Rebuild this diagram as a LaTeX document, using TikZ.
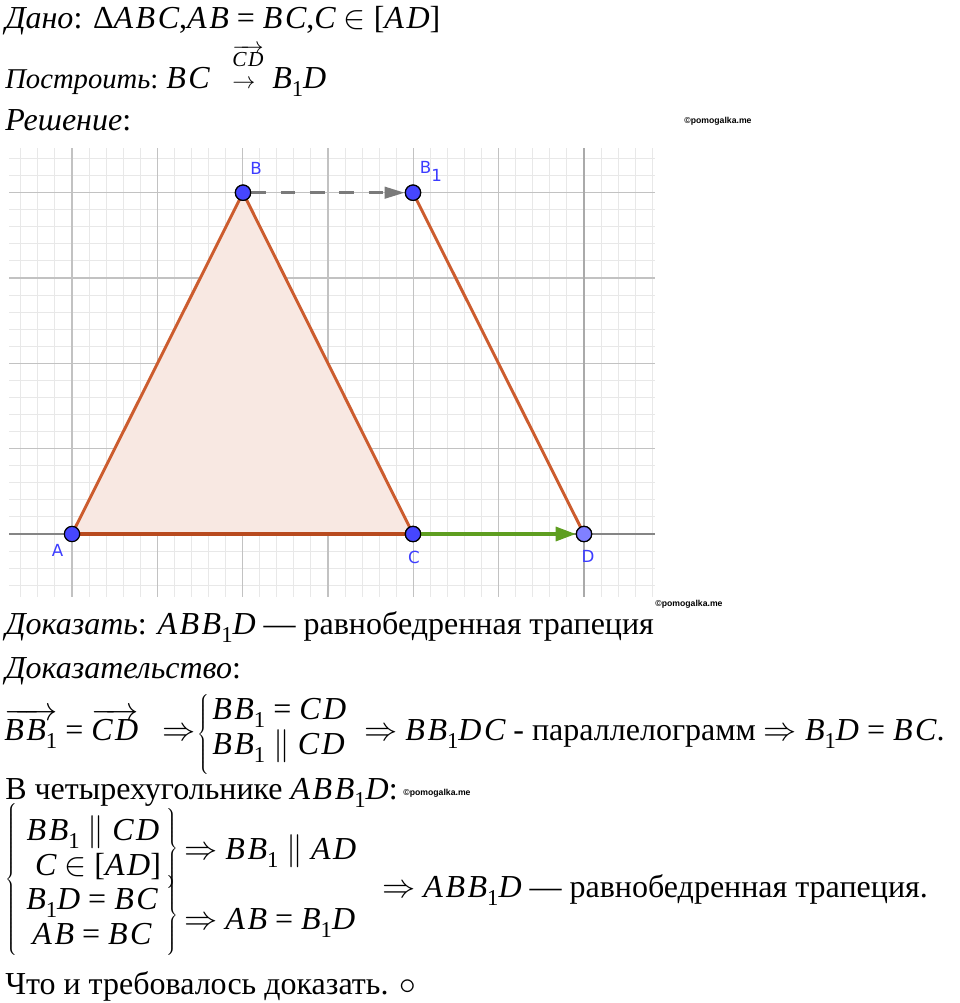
\documentclass[tikz,border=0pt]{standalone}
\usepackage{fontspec}
\setmainfont{Liberation Serif}
\newfontfamily\mitfont[LetterSpace=8.0]{Liberation Serif}
\newfontfamily\ggb{DejaVu Sans}
\newfontfamily\wmfont{Liberation Sans}
\usetikzlibrary{arrows.meta}
\definecolor{minorc}{HTML}{E8E8E8}
\definecolor{majorc}{HTML}{C2C2C2}
\definecolor{axisc}{HTML}{858585}
\definecolor{segc}{HTML}{CC5C2E}
\definecolor{basec}{HTML}{B84A1E}
\definecolor{fillc}{HTML}{F8E8E2}
\definecolor{ptc}{HTML}{4646FF}
\definecolor{ptd}{HTML}{8080FF}
\definecolor{lblc}{HTML}{3C3CFF}
\definecolor{greenc}{HTML}{5E9E20}
\definecolor{dashc}{HTML}{7A7A7A}
\newcommand\bodyfont{\fontsize{24}{29}\selectfont}
\newcommand\vr[1]{\vrule height #1 depth #1 width 0pt}
\newcommand\mi[1]{{\mitfont\itshape #1}}
\newcommand\one{\raisebox{-6pt}{\fontsize{17}{17}\selectfont 1}}
\newcommand\vecbox[1]{$\overrightarrow{\mbox{#1}}$}
\begin{document}
\begin{tikzpicture}[x=0.75pt,y=-0.75pt,
  txt/.style={anchor=base west,inner sep=0pt,font=\bodyfont},
  ctr/.style={anchor=base,inner sep=0pt,font=\bodyfont},
  brc/.style={inner sep=0pt,font=\bodyfont},
  wm/.style={inner sep=0pt,font=\wmfont\bfseries\fontsize{6.5}{7}\selectfont},
  pt/.style={circle,draw=black,line width=0.9pt,fill=ptc,minimum size=11.5pt,inner sep=0pt},
  lbl/.style={text=lblc,font=\ggb\fontsize{12.5}{13}\selectfont,inner sep=0pt},
  minorl/.style={draw=minorc,line width=0.75pt},
  majorl/.style={draw=majorc,line width=1.1pt},
  axisl/.style={draw=axisc,line width=1.5pt},
  seg/.style={draw=segc,line width=2.2pt},
]
\useasboundingbox[fill=white] (0,0) rectangle (960,1003);

% ---- text above the figure
\node[txt,text height=19pt,text depth=6pt] (t1) at (5,28) {\textit{Дано}: Δ\mi{ABC},\mi{AB} = \mi{BC},\mi{C} $\in$ [\mi{AD}]};
\node[txt,font=\fontsize{21.5}{26}\selectfont] (t2) at (5,88) {\textit{Построить}:};
\node[txt] (t2bc) at (166,88) {\mi{BC}};
\node[anchor=base,inner sep=0pt,font=\fontsize{18}{20}\selectfont] (t2arr) at (244,88) {$\rightarrow$};
\node[anchor=base,inner sep=0pt,font=\fontsize{16}{17}\selectfont] (t2cd) at (248,66) {\vecbox{\mi{CD}}};
\node[txt] (t2b) at (272,88) {\mi{B}\one\mi{D}};
\node[txt] (t3) at (5,130) {\textit{Решение}:};
\node[wm] (w1) at (718,121) {©pomogalka.me};

% ---- grid
\foreach \k in {-3,...,34} \draw[minorl] ({72+17.0667*\k},148) -- ({72+17.0667*\k},597);
\foreach \j in {-3,...,22} \draw[minorl] (9,{534-17.0667*\j}) -- (655,{534-17.0667*\j});
\foreach \k in {0,...,6} \draw[majorl] ({72+85.333*\k},148) -- ({72+85.333*\k},597);
\foreach \j in {1,...,4} \draw[majorl] (9,{534-85.333*\j}) -- (655,{534-85.333*\j});
\draw[axisl] (9,534) -- (655,534);
\draw[draw=axisc!70,line width=1.1pt] (584,148) -- (584,597);

% ---- points
\coordinate (pA) at (72,534);
\coordinate (pB) at (243,192.7);
\coordinate (pC) at (413,534);
\coordinate (pD) at (584,534);
\coordinate (pB1) at (413,192.7);

\fill[fillc] (pA) -- (pB) -- (pC) -- cycle;
\draw[seg] (pA) -- (pB);
\draw[seg] (pB) -- (pC);
\draw[seg] (pB1) -- (pD);
\draw[draw=basec,line width=2.4pt] (pA) -- (pC);

\node[pt] (A) at (pA) {};
\node[pt] (B) at (pB) {};
\node[pt] (C) at (pC) {};
\node[pt,fill=ptd] (D) at (pD) {};
\node[pt] (B1) at (pB1) {};

\draw[dashc,line width=2.2pt,dash pattern=on 11pt off 11pt,
  -{Triangle[length=15pt,width=8.5pt]}] (B) -- (B1);
\draw[greenc,line width=2.3pt,-{Triangle[length=15pt,width=10.5pt]}] (C) -- (D);

\node[pt] at (pB) {};
\node[pt] at (pB1) {};
\node[pt] at (pC) {};
\node[pt,fill=ptd] at (pD) {};

\node[lbl] (lA) at (57.5,550) {A};
\node[lbl] (lB) at (256,168.5) {B};
\node[lbl,anchor=center] (lB1) at (431,171) {B\raisebox{-6pt}{1}};
\node[lbl] (lC) at (414,557) {C};
\node[lbl] (lD) at (588,556) {D};
\node[wm] (w2) at (689,604) {©pomogalka.me};

% ---- text below the figure
\node[txt] (t4) at (5,634) {\textit{Доказать}: \mi{ABB}\one\mi{D} — равнобедренная трапеция};
\node[txt] (t5) at (5,678) {\textit{Доказательство}:};

\node[txt] (e1) at (4,740) {\vecbox{\mi{BB}\one} = \vecbox{\mi{CD}}};
\node[txt] (e2) at (162,740) {$\Rightarrow$};
\node[brc] (e3) at (204,735) {$\left\{\vr{24pt}\right.$};
\node[txt] (e4) at (212,719) {\mi{BB}\one\ = \mi{CD}};
\node[txt] (e5) at (212,754) {\mi{BB}\one\ $\parallel$ \mi{CD}};
\node[txt] (e6) at (364,740) {$\Rightarrow$ \mi{BB}\one\mi{DC} - параллелограмм $\Rightarrow$ \mi{B}\one\mi{D} = \mi{BC}.};

\node[txt] (t7) at (5,799) {В четырехугольнике \mi{ABB}\one\mi{D}:};
\node[wm] (w3) at (437,793) {©pomogalka.me};

\node[brc] (s0) at (12,880) {$\left\{\vr{52pt}\right.$};
\node[ctr] (s1) at (93,840) {\mi{BB}\one\ $\parallel$ \mi{CD}};
\node[ctr] (s2) at (98,875) {\mi{C} $\in$ [\mi{AD}]};
\node[brc] (s3) at (172,849) {$\left.\vr{25pt}\right\}$};
\node[txt] (s4) at (184,859) {$\Rightarrow$ \mi{BB}\one\ $\parallel$ \mi{AD}};
\node[ctr] (s5) at (92,909) {\mi{B}\one\mi{D} = \mi{BC}};
\node[ctr] (s6) at (92,944) {\mi{AB} = \mi{BC}};
\node[brc] (s7) at (172,916) {$\left.\vr{24pt}\right\}$};
\node[txt] (s8) at (184,929) {$\Rightarrow$ \mi{AB} = \mi{B}\one\mi{D}};
\node[txt] (s9) at (382,897) {$\Rightarrow$ \mi{ABB}\one\mi{D} — равнобедренная трапеция.};

\node[txt] (t8) at (5,994) {Что и требовалось доказать. $\circ$};
\end{tikzpicture}
\end{document}
